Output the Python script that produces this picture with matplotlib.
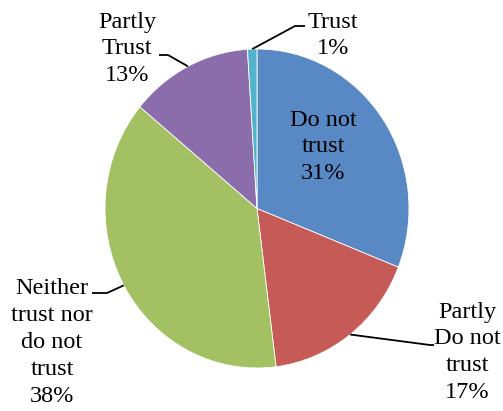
import numpy as np
import matplotlib
matplotlib.use("Agg")
import matplotlib.pyplot as plt
from matplotlib import font_manager as fm

# survey answers, share in percent (clockwise from 12 o'clock)
categorias = ["Do not\ntrust", "Partly\nDo not\ntrust", "Neither\ntrust nor\ndo not\ntrust",
              "Partly\nTrust", "Trust"]
porcentajes = [31, 17, 38, 13, 1]
colores = ["#5889C4", "#C65A56", "#A3C163", "#8A6DAA", "#53B2CC"]

W, H = 503, 411
cx, cy = 257, 208.5      # centro de la tarta en pixeles
rx, ry = 152, 159.5      # la tarta sale un poco estirada en vertical

letra = fm.FontProperties(fname=fm.findfont("Liberation Serif"), size=17.5)

fig = plt.figure(figsize=(W / 100, H / 100), dpi=100)
ax = fig.add_axes([0, 0, 1, 1])

wedges, _ = ax.pie(porcentajes, colors=colores, startangle=90, counterclock=False,
                   radius=1, wedgeprops=dict(edgecolor="white", linewidth=0.6))

# pie() pone sus propios limites y aspecto, se rehacen despues
ax.set_xlim(-cx / rx, (W - cx) / rx)
ax.set_ylim(-(H - cy) / ry, cy / ry)
ax.set_aspect("auto")
ax.axis("off")


def px(x, y):
    # pixel de la imagen -> coordenadas del eje
    return (x - cx) / rx, (cy - y) / ry


# posicion de la etiqueta (centro x, borde superior) y codo de la guia
etiquetas = [
    ((323, 109.5), None),
    ((467, 301.5), [(430, 345), (434, 345)]),
    ((52, 278.5), [(107, 293), (92, 293)]),
    ((127, 11.5), [(168, 55), (159, 55)]),
    ((333, 11.5), [(295, 26), (305, 26)]),
]

for w, cat, pc, (pos, guia) in zip(wedges, categorias, porcentajes, etiquetas):
    texto = "{}\n{}%".format(cat, pc)
    ax.text(*px(*pos), texto, ha="center", va="top", multialignment="center",
            linespacing=1.37, color="black", fontproperties=letra)
    if guia is not None:
        ang = np.deg2rad((w.theta1 + w.theta2) / 2)
        xs = [np.cos(ang)] + [px(*p)[0] for p in guia]
        ys = [np.sin(ang)] + [px(*p)[1] for p in guia]
        ax.plot(xs, ys, color="black", lw=1.3, solid_capstyle="butt")

fig.savefig("out.png", dpi=100, facecolor="white")
